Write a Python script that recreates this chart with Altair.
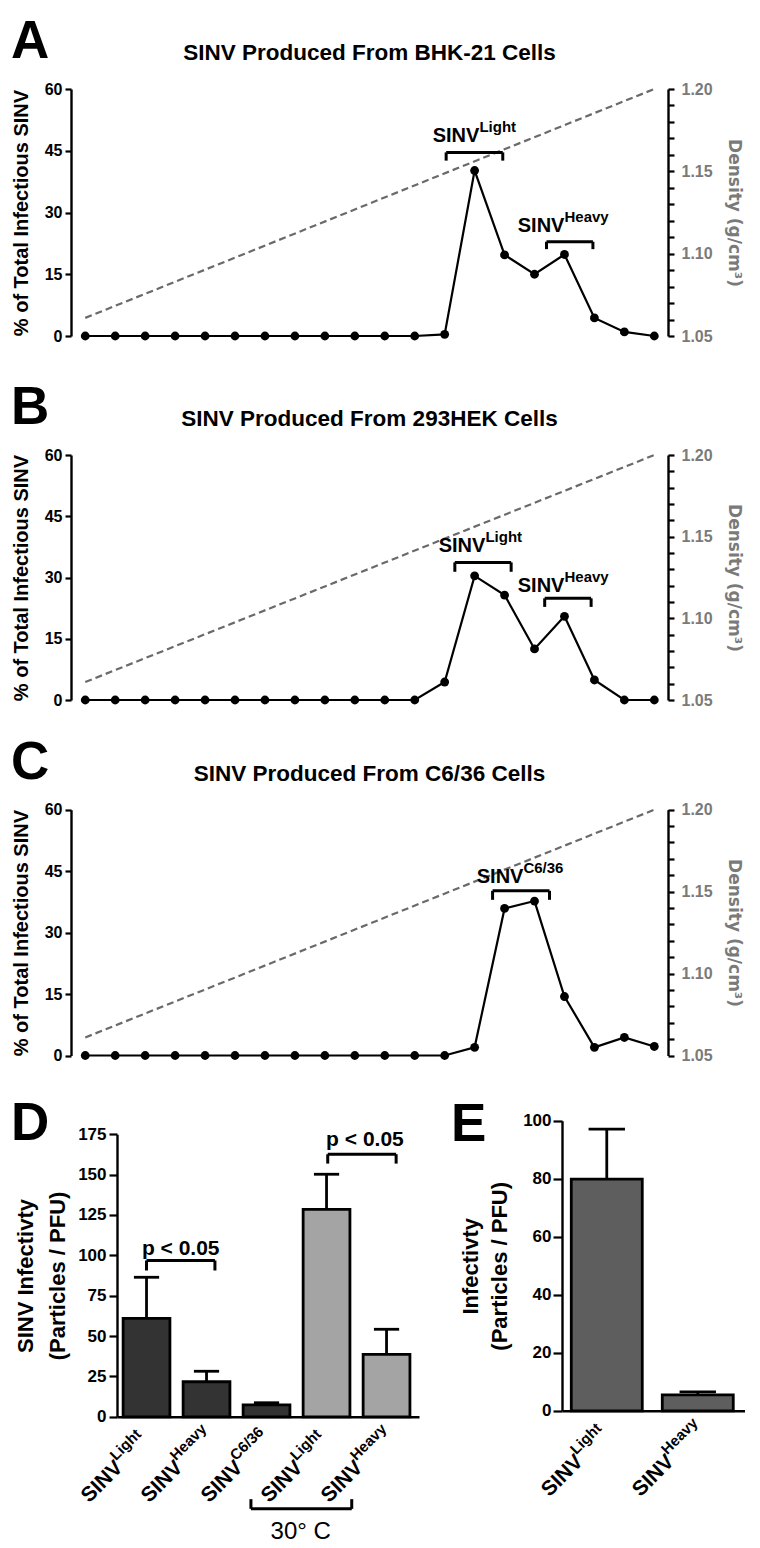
import altair as alt
import pandas as pd

FONT = "Liberation Sans"
GREY = "#7a7a7a"

# ---------------- data ----------------
fractions = list(range(1, 21))
pct_bhk21 = [0, 0, 0, 0, 0, 0, 0, 0, 0, 0, 0, 0, 0.4, 40.2, 19.7, 15.0, 19.8, 4.4, 1.0, 0]
pct_293hek = [0, 0, 0, 0, 0, 0, 0, 0, 0, 0, 0, 0, 4.4, 30.4, 25.7, 12.5, 20.5, 4.9, 0, 0]
pct_c636 = [0, 0, 0, 0, 0, 0, 0, 0, 0, 0, 0, 0, 0, 2.0, 35.9, 37.7, 14.4, 2.0, 4.4, 2.2]

density_fraction = [1, 20]
density_gcm3 = [1.061, 1.200]

pct_ticks = [0, 15, 30, 45, 60]
density_ticks = [1.05, 1.06, 1.07, 1.08, 1.09, 1.10, 1.11, 1.12,
                 1.13, 1.14, 1.15, 1.16, 1.17, 1.18, 1.19, 1.20]

panel_titles = ["SINV Produced From BHK-21 Cells",
                "SINV Produced From 293HEK Cells",
                "SINV Produced From C6/36 Cells"]

# peak brackets: fraction from, fraction to, % level, tip level
brackets_A = [[13.05, 14.94, 44.6, 42.6], [16.4, 17.95, 22.9, 21.1]]
brackets_B = [[13.34, 15.22, 33.7, 31.4], [16.34, 17.89, 24.9, 22.8]]
brackets_C = [[14.6, 16.5, 40.2, 38.0]]
# peak labels: fraction, % level, superscript
peaks_A = [[14.16, 47.2, "Light"], [17.0, 25.2, "Heavy"]]
peaks_B = [[14.36, 36.3, "Light"], [17.0, 26.5, "Heavy"]]
peaks_C = [[15.63, 42.0, "C6/36"]]

# panel D
d_sup = ["Light", "Heavy", "C6/36", "Light", "Heavy"]
d_pos = [1, 2, 3, 4, 5]
d_mean = [60.9, 21.7, 7.4, 128.4, 38.6]
d_upper = [86.4, 28.2, 8.7, 150.2, 54.2]
d_set = ["std", "std", "std", "30", "30"]
d_ticks = [0, 25, 50, 75, 100, 125, 150, 175]
d_sig = [[1.0, 2.14, 96.8, 90.6, 1.57, 100.5, "p < 0.05"],
         [4.02, 5.16, 162.6, 156.8, 4.64, 167.8, "p < 0.05"]]
d_temp = [[2.74, 4.42, -57.0, -51.0, 3.57, -75.5, "30° C"]]

# panel E
e_sup = ["Light", "Heavy"]
e_pos = [1, 2]
e_mean = [79.9, 5.5]
e_upper = [97.1, 6.55]
e_ticks = [0, 20, 40, 60, 80, 100]

# line panels: plot area spans x from -46 to 551 of its group
W_LINE = 551
X0_LINE = -46
MAJOR = "round(datum.value*100) % 5 == 0"
LAB_DROP = 21
LETTER_X = -106
LETTER_SIZE = 53


def line_panel(letter, title, values, brackets, peaks, H, top):
    xs = alt.Scale(domain=[0.524, 20.457], range=[X0_LINE, W_LINE], nice=False, zero=False)
    ys = alt.Scale(domain=[0, 60], range=[H, top], nice=False, zero=False)
    ds = alt.Scale(domain=[1.05, 1.20], range=[H, top], nice=False, zero=False)
    X = alt.X("fraction:Q", scale=xs, axis=None)

    left_axis = alt.Axis(
        orient="left", offset=-X0_LINE, values=pct_ticks,
        title="% of Total Infectious SINV", titleFontSize=20, titlePadding=13,
        labelFontSize=16, labelPadding=3, tickSize=6)
    right_axis = alt.Axis(
        orient="right", values=density_ticks,
        labelExpr=f"({MAJOR}) ? format(datum.value, '.2f') : ''",
        title="Density (g/cm³)", titleFont="DejaVu Sans", titleFontSize=17,
        titleColor=GREY, titlePadding=12, labelColor=GREY, labelFontSize=16,
        labelPadding=7, tickSize=6)

    df = pd.DataFrame({"fraction": fractions, "pct": values})
    dens_df = pd.DataFrame({"fraction": density_fraction, "density": density_gcm3})
    bdf = pd.DataFrame(brackets, columns=["x1", "x2", "yb", "yt"])
    pdf = pd.DataFrame(peaks, columns=["xl", "yl", "sup"])
    head = pd.DataFrame({"letter": [letter], "title": [title]})

    def SY(field):
        return alt.Y(field, scale=ys)

    dens = alt.Chart(dens_df).mark_line(
        color="#6a6a6a", strokeDash=[7, 4], strokeWidth=2.2).encode(
        x=X, y=alt.Y("density:Q", scale=ds, axis=right_axis))

    line = alt.Chart(df).mark_line(color="black", strokeWidth=2.2).encode(
        x=X, y=alt.Y("pct:Q", scale=ys, axis=left_axis))
    pts = alt.Chart(df).mark_circle(color="black", size=78, opacity=1).encode(
        x=X, y=SY("pct:Q"))
    hbar = alt.Chart(bdf).mark_rule(color="black", strokeWidth=3).encode(
        x=alt.X("x1:Q", scale=xs, axis=None), x2="x2:Q", y=SY("yb:Q"))
    tips = alt.Chart(bdf).transform_fold(["x1", "x2"], as_=["end", "xe"]).mark_rule(
        color="black", strokeWidth=3).encode(
        x=alt.X("xe:Q", scale=xs, axis=None), y=SY("yb:Q"), y2="yt:Q")
    main = alt.Chart(pdf).mark_text(
        text="SINV", align="right", baseline="alphabetic", fontSize=20,
        fontWeight="bold", color="black").encode(
        x=alt.X("xl:Q", scale=xs, axis=None), y=SY("yl:Q"))
    sup = alt.Chart(pdf).mark_text(
        align="left", baseline="alphabetic", dy=-10, fontSize=15,
        fontWeight="bold", color="black").encode(
        x=alt.X("xl:Q", scale=xs, axis=None), y=SY("yl:Q"), text="sup:N")
    let = alt.Chart(head).mark_text(
        align="left", baseline="alphabetic", fontSize=LETTER_SIZE, fontWeight="bold",
        color="black").encode(x=alt.value(LETTER_X), y=alt.value(top - 31), text="letter:N")
    tit = alt.Chart(head).mark_text(
        align="center", baseline="alphabetic", fontSize=22.5, fontWeight="bold",
        color="black").encode(x=alt.value((X0_LINE + W_LINE) / 2), y=alt.value(top - 29),
                              text="title:N")

    inner = alt.layer(line, pts, hbar, tips, main, sup, let, tit)
    return alt.layer(dens, inner).resolve_scale(y="independent").properties(
        width=W_LINE, height=H)


x_base_axis = alt.Axis(labels=False, ticks=False, title=None)

# ---------------- panel D ----------------
H_D, TOP_D, W_D = 342.8, 60.2, 302
xsD = alt.Scale(domain=[0.508, 5.541], nice=False, zero=False)
ysD = alt.Scale(domain=[0, 175], range=[H_D, TOP_D], nice=False, zero=False)
ddf = pd.DataFrame({"pos": d_pos, "mean": d_mean, "upper": d_upper,
                    "sup": d_sup, "set": d_set})
sigdf = pd.DataFrame(d_sig + d_temp, columns=["x1", "x2", "yb", "yt", "xt", "ytxt", "txt"])

d_axis = alt.Axis(values=d_ticks, title=["SINV Infectivty", "(Particles / PFU)"],
                  titleFontSize=22, titlePadding=8, titleLineHeight=32,
                  labelFontSize=17, labelPadding=3, tickSize=8)
d_bars = alt.Chart(ddf).transform_calculate(
    xa="datum.pos - 0.39", xb="datum.pos + 0.39", base="0").mark_bar(
    stroke="black", strokeWidth=2.8).encode(
    x=alt.X("xa:Q", scale=xsD, axis=x_base_axis), x2="xb:Q",
    y=alt.Y("mean:Q", scale=ysD, axis=d_axis), y2="base:Q",
    color=alt.Color("set:N", scale=alt.Scale(domain=["std", "30"],
                                             range=["#333333", "#a4a4a4"]), legend=None))
d_stem = alt.Chart(ddf).mark_rule(color="black", strokeWidth=2.8).encode(
    x=alt.X("pos:Q", scale=xsD), y=alt.Y("mean:Q", scale=ysD), y2="upper:Q")
d_cap = alt.Chart(ddf).transform_calculate(
    ca="datum.pos - 0.21", cb="datum.pos + 0.21").mark_rule(
    color="black", strokeWidth=2.8).encode(
    x=alt.X("ca:Q", scale=xsD), x2="cb:Q", y=alt.Y("upper:Q", scale=ysD))
d_hb = alt.Chart(sigdf).mark_rule(color="black", strokeWidth=3).encode(
    x=alt.X("x1:Q", scale=xsD), x2="x2:Q", y=alt.Y("yb:Q", scale=ysD))
d_tips = alt.Chart(sigdf).transform_fold(["x1", "x2"], as_=["end", "xe"]).mark_rule(
    color="black", strokeWidth=3).encode(
    x=alt.X("xe:Q", scale=xsD), y=alt.Y("yb:Q", scale=ysD), y2="yt:Q")
d_ptxt = alt.Chart(sigdf).transform_filter("datum.txt != '30° C'").mark_text(
    align="center", baseline="alphabetic", fontSize=21, fontWeight="bold", color="black").encode(
    x=alt.X("xt:Q", scale=xsD), y=alt.Y("ytxt:Q", scale=ysD), text="txt:N")
d_ttxt = alt.Chart(sigdf).transform_filter("datum.txt == '30° C'").mark_text(
    align="center", baseline="alphabetic", fontSize=24, fontWeight="normal", color="black").encode(
    x=alt.X("xt:Q", scale=xsD), y=alt.Y("ytxt:Q", scale=ysD), text="txt:N")
d_lab = alt.Chart(ddf).mark_text(
    text="SINV", angle=315, align="right", baseline="middle", dx=-38, fontSize=21,
    fontWeight="bold", color="black").encode(
    x=alt.X("pos:Q", scale=xsD), y=alt.value(H_D + LAB_DROP))
d_labsup = alt.Chart(ddf).mark_text(
    angle=315, align="left", baseline="middle", dx=-38, dy=-10, fontSize=15,
    fontWeight="bold", color="black").encode(
    x=alt.X("pos:Q", scale=xsD), y=alt.value(H_D + LAB_DROP), text="sup:N")
d_letter = alt.Chart(pd.DataFrame({"letter": ["D"]})).mark_text(
    align="left", baseline="alphabetic", fontSize=LETTER_SIZE, fontWeight="bold",
    color="black").encode(x=alt.value(LETTER_X), y=alt.value(TOP_D + 6), text="letter:N")
D = alt.layer(d_stem, d_cap, d_bars, d_hb, d_tips, d_ptxt, d_ttxt, d_lab, d_labsup,
              d_letter).properties(width=W_D, height=H_D)

# ---------------- panel E ----------------
H_E, TOP_E, W_E = 336.8, 46.8, 183
xsE = alt.Scale(domain=[0.508, 2.519], nice=False, zero=False)
ysE = alt.Scale(domain=[0, 100], range=[H_E, TOP_E], nice=False, zero=False)
edf = pd.DataFrame({"pos": e_pos, "mean": e_mean, "upper": e_upper, "sup": e_sup})
e_axis = alt.Axis(values=e_ticks, title=["Infectivty", "(Particles / PFU)"],
                  titleFontSize=22, titlePadding=11, titleLineHeight=29,
                  labelFontSize=17, labelPadding=2, tickSize=9)
e_bars = alt.Chart(edf).transform_calculate(
    xa="datum.pos - 0.39", xb="datum.pos + 0.39", base="0").mark_bar(
    stroke="black", strokeWidth=2.8, color="#5e5e5e").encode(
    x=alt.X("xa:Q", scale=xsE, axis=x_base_axis), x2="xb:Q",
    y=alt.Y("mean:Q", scale=ysE, axis=e_axis), y2="base:Q")
e_stem = alt.Chart(edf).mark_rule(color="black", strokeWidth=2.8).encode(
    x=alt.X("pos:Q", scale=xsE), y=alt.Y("mean:Q", scale=ysE), y2="upper:Q")
e_cap = alt.Chart(edf).transform_calculate(
    ca="datum.pos - 0.2", cb="datum.pos + 0.2").mark_rule(
    color="black", strokeWidth=2.8).encode(
    x=alt.X("ca:Q", scale=xsE), x2="cb:Q", y=alt.Y("upper:Q", scale=ysE))
e_lab = alt.Chart(edf).mark_text(
    text="SINV", angle=315, align="right", baseline="middle", dx=-38, fontSize=21,
    fontWeight="bold", color="black").encode(
    x=alt.X("pos:Q", scale=xsE), y=alt.value(H_E + LAB_DROP))
e_labsup = alt.Chart(edf).mark_text(
    angle=315, align="left", baseline="middle", dx=-38, dy=-10, fontSize=15,
    fontWeight="bold", color="black").encode(
    x=alt.X("pos:Q", scale=xsE), y=alt.value(H_E + LAB_DROP), text="sup:N")
e_letter = alt.Chart(pd.DataFrame({"letter": ["E"]})).mark_text(
    align="left", baseline="alphabetic", fontSize=LETTER_SIZE, fontWeight="bold",
    color="black").encode(x=alt.value(-111), y=alt.value(TOP_E + 20), text="letter:N")
E = alt.layer(e_stem, e_cap, e_bars, e_lab, e_labsup, e_letter).properties(
    width=W_E, height=H_E)

# ---------------- assemble ----------------
A = line_panel("A", panel_titles[0], pct_bhk21, brackets_A, peaks_A, 322, 75)
B = line_panel("B", panel_titles[1], pct_293hek, brackets_B, peaks_B, 346, 101)
C = line_panel("C", panel_titles[2], pct_c636, brackets_C, peaks_C, 337.5, 91.7)
DE = alt.hconcat(D, E, spacing=143, bounds="flush")

chart = alt.vconcat(A, B, C, DE, spacing=18, bounds="flush").properties(
    padding={"left": 3, "top": 6, "right": 0, "bottom": 0}).configure(
    font=FONT).configure_view(stroke=None).configure_axis(
    labelFontWeight="bold", labelColor="black", titleFontWeight="bold",
    titleColor="black", tickColor="black", tickWidth=2.2, domainColor="black",
    domainWidth=2.4, grid=False, labelOverlap=False)

chart.save("out.html", embed_options={"renderer": "svg", "actions": False})
